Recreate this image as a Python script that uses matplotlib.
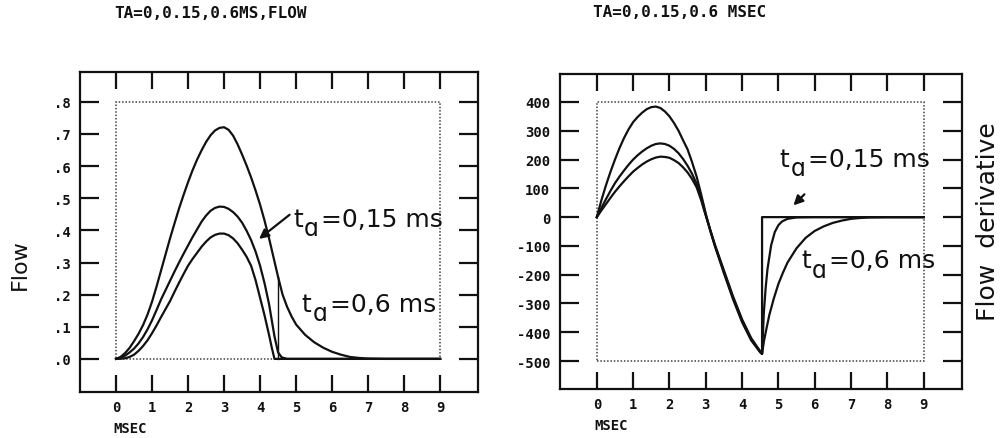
import matplotlib
matplotlib.use("Agg")
import matplotlib.pyplot as plt
from matplotlib.patches import Rectangle

# glottal flow for the three return phases ta = 0.6, 0.15, 0 ms
flow_ta06_t = [0, .125, .25, .375, .5, .625, .75, .875, 1, 1.125, 1.25, 1.375, 1.5, 1.625, 1.75,
               1.875, 2, 2.125, 2.25, 2.375, 2.5, 2.625, 2.75, 2.875, 3, 3.125, 3.25, 3.375,
               3.5, 3.625, 3.75, 3.875, 4, 4.125, 4.25, 4.375, 4.5, 4.625, 4.75, 4.875, 5,
               5.25, 5.5, 5.75, 6, 6.25, 6.5, 6.75, 7, 7.5, 9]
flow_ta06 = [0, .006, .018, .034, .055, .078, .105, .138, .178, .225, .275, .325, .375, .422, .468,
             .51, .55, .587, .62, .649, .675, .696, .711, .719, .721, .713, .695, .668,
             .636, .602, .565, .524, .48, .43, .375, .315, .255, .20, .162, .132, .107,
             .075, .052, .035, .022, .013, .006, .003, .001, 0, 0]

flow_ta015_t = [0, .125, .25, .375, .5, .625, .75, .875, 1, 1.125, 1.25, 1.375, 1.5, 1.625, 1.75,
                1.875, 2, 2.125, 2.25, 2.375, 2.5, 2.625, 2.75, 2.875, 3, 3.125, 3.25, 3.375,
                3.5, 3.625, 3.75, 3.875, 4, 4.125, 4.25, 4.4, 4.5, 4.6, 4.75, 9]
flow_ta015 = [0, .004, .01, .02, .032, .048, .068, .092, .12, .152, .185, .214, .243, .272, .30,
              .327, .353, .379, .403, .427, .446, .461, .47, .474, .473, .467, .457, .443,
              .424, .399, .37, .334, .29, .235, .17, .07, .02, .005, 0, 0]

flow_ta0_t = [0, .125, .25, .375, .5, .625, .75, .875, 1, 1.125, 1.25, 1.375, 1.5, 1.625, 1.75,
              1.875, 2, 2.125, 2.25, 2.375, 2.5, 2.625, 2.75, 2.875, 3, 3.125, 3.25, 3.375,
              3.5, 3.625, 3.75, 3.875, 4, 4.125, 4.25, 4.325, 4.4, 9]
flow_ta0 = [0, .0005, .002, .006, .013, .025, .04, .058, .08, .104, .13, .155, .18, .209, .237,
            .264, .29, .311, .33, .349, .365, .378, .386, .39, .39, .385, .375, .36,
            .34, .318, .29, .245, .19, .135, .074, .035, 0, 0]

# pen retrace at closure on the ta=0.6 curve
spike_t = [4.5, 4.5]
spike_flow = [0, .255]

# flow derivative
dflow_ta06_t = [0, .125, .25, .375, .5, .625, .75, .875, 1, 1.125, 1.25, 1.375, 1.5, 1.625, 1.75,
                1.875, 2, 2.125, 2.25, 2.375, 2.5, 2.625, 2.75, 2.875, 3, 3.125, 3.25, 3.5, 3.75,
                4, 4.25, 4.5, 4.55, 4.6, 4.675, 4.75, 4.875, 5, 5.125, 5.25, 5.5, 5.75, 6, 6.25,
                6.5, 6.75, 7, 7.25, 7.5, 8, 9]
dflow_ta06 = [0, 58, 110, 157, 200, 240, 275, 305, 330, 348, 363, 375, 382, 384, 379,
              367, 350, 327, 300, 267, 235, 190, 140, 78, 12, -48, -100, -195, -285,
              -365, -428, -470, -475, -432, -385, -340, -282, -232, -193, -158, -108, -72, -48, -32,
              -20, -12, -6, -3, -1, 0, 0]

dflow_ta015_t = [0, .125, .25, .375, .5, .625, .75, .875, 1, 1.125, 1.25, 1.375, 1.5, 1.625, 1.75,
                 1.875, 2, 2.125, 2.25, 2.375, 2.5, 2.625, 2.75, 2.875, 3, 3.125, 3.25, 3.5, 3.75,
                 4, 4.25, 4.5, 4.55, 4.6, 4.65, 4.7, 4.8, 4.9, 5.0, 5.1, 5.25, 5.5, 6, 9]
dflow_ta015 = [0, 32, 62, 91, 118, 141, 162, 182, 200, 215, 228, 239, 248, 254, 256,
               254, 248, 237, 222, 202, 178, 150, 115, 65, 8, -46, -98, -190, -280,
               -360, -424, -468, -475, -330, -245, -180, -98, -52, -28, -15, -6, -1, 0, 0]

dflow_ta0_t = [0, .125, .25, .375, .5, .625, .75, .875, 1, 1.125, 1.25, 1.375, 1.5, 1.625, 1.75,
               1.875, 2, 2.125, 2.25, 2.375, 2.5, 2.625, 2.75, 2.875, 3, 3.125, 3.25, 3.5, 3.75,
               4, 4.25, 4.5, 4.55, 4.55, 9]
dflow_ta0 = [0, 23, 45, 67, 88, 107, 125, 142, 158, 171, 183, 193, 201, 207, 210,
             209, 206, 198, 188, 173, 155, 132, 103, 58, 5, -45, -95, -185, -275,
             -355, -420, -466, -475, 0, 0]

msec_ticks = list(range(10))
flow_ticks = [0, .1, .2, .3, .4, .5, .6, .7, .8]
flow_tick_labels = [".0", ".1", ".2", ".3", ".4", ".5", ".6", ".7", ".8"]
dflow_ticks = [400, 300, 200, 100, 0, -100, -200, -300, -400, -500]
dflow_tick_labels = ["400", "300", "200", "100", "0", "-100", "-200", "-300", "-400", "-500"]

INK = "#111111"
MONO = {"family": "DejaVu Sans Mono", "weight": "bold"}

fig = plt.figure(figsize=(10.05, 4.39), dpi=100)
fig.patch.set_facecolor("white")
ax1 = fig.add_axes([0.0796, 0.1048, 0.396, 0.729])
ax2 = fig.add_axes([0.557, 0.1116, 0.400, 0.7175])


def style_axes(ax, yticks, ylabels):
    ax.set_xticks(msec_ticks)
    ax.set_xticklabels([str(v) for v in msec_ticks], fontdict=MONO, fontsize=10)
    ax.set_yticks(yticks)
    ax.set_yticklabels(ylabels, fontdict=MONO, fontsize=10)
    ax.tick_params(axis="x", direction="in", top=True, bottom=True, length=12, width=1.6,
                   pad=6, colors=INK)
    ax.tick_params(axis="y", direction="in", left=True, right=True, length=14, width=1.6,
                   pad=7, colors=INK)
    for sp in ax.spines.values():
        sp.set_linewidth(1.6)
        sp.set_color(INK)
    ax.annotate("MSEC", xy=(0, 0), xycoords=("data", "axes fraction"), xytext=(-2, -21),
                textcoords="offset points", ha="left", va="top", fontsize=10, color=INK, **MONO)


def ta_label(ax, x, y, rest):
    # t with a lowered "a" subscript, then the value
    ax.text(x, y, "t", fontsize=18, ha="left", va="baseline", color=INK)
    ax.annotate("\u0251", (x, y), xytext=(7.5, -7), textcoords="offset points",
                fontsize=17, va="baseline", color=INK)
    ax.annotate("=" + rest, (x, y), xytext=(20, 0), textcoords="offset points",
                fontsize=18, va="baseline", color=INK)


# ---- left: flow ----
ax1.set_xlim(-1.0, 10.05)
ax1.set_ylim(-0.103, 0.893)
ax1.add_patch(Rectangle((0, 0), 9, 0.8, fill=False, ec="0.25", lw=1.1, ls=(0, (1, 1.2))))
ax1.plot(flow_ta06_t, flow_ta06, color=INK, lw=1.6)
ax1.plot(flow_ta015_t, flow_ta015, color=INK, lw=1.6)
ax1.plot(flow_ta0_t, flow_ta0, color=INK, lw=1.6)
ax1.plot(spike_t, spike_flow, color=INK, lw=1.0)
style_axes(ax1, flow_ticks, flow_tick_labels)
ta_label(ax1, 4.92, 0.415, "0,15 ms")
ta_label(ax1, 5.16, 0.150, "0,6 ms")
ax1.annotate("", xy=(3.91, 0.368), xytext=(4.88, 0.454),
             arrowprops=dict(arrowstyle="-|>", color=INK, lw=1.6, mutation_scale=14))
ax1.annotate("TA=0,0.15,0.6MS,FLOW", xy=(0, 1), xycoords=("data", "axes fraction"),
             xytext=(-1, 43), textcoords="offset points", ha="left", va="center",
             fontsize=11.5, color=INK, **MONO)

# ---- right: flow derivative ----
ax2.set_xlim(-1.02, 10.05)
ax2.set_ylim(-597, 497)
ax2.add_patch(Rectangle((0, -500), 9, 900, fill=False, ec="0.25", lw=1.1, ls=(0, (1, 1.2))))
ax2.plot(dflow_ta06_t, dflow_ta06, color=INK, lw=1.6)
ax2.plot(dflow_ta015_t, dflow_ta015, color=INK, lw=1.6)
ax2.plot(dflow_ta0_t, dflow_ta0, color=INK, lw=1.6)
style_axes(ax2, dflow_ticks, dflow_tick_labels)
ta_label(ax2, 5.04, 179, "0,15 ms")
ta_label(ax2, 5.63, -174, "0,6 ms")
ax2.annotate("", xy=(5.36, 34), xytext=(5.77, 86),
             arrowprops=dict(arrowstyle="-|>", color=INK, lw=1.6, mutation_scale=14))
ax2.annotate("TA=0,0.15,0.6 MSEC", xy=(0, 1), xycoords=("data", "axes fraction"),
             xytext=(-3, 45), textcoords="offset points", ha="left", va="center",
             fontsize=11.5, color=INK, **MONO)

fig.text(20 / 1005, 1 - 265 / 439, "Flow", rotation=90, ha="center", va="center",
         fontsize=16, color=INK)
fig.text(988 / 1005, 1 - 222 / 439, "Flow  derivative", rotation=90, ha="center", va="center",
         fontsize=18, color=INK)

fig.savefig("out.png", dpi=100, facecolor="white")
